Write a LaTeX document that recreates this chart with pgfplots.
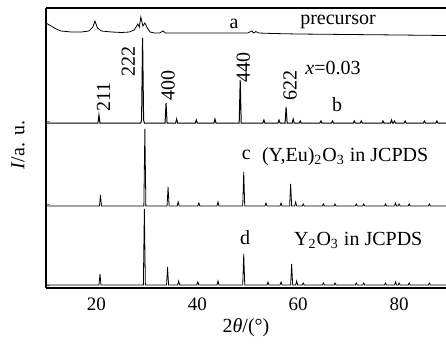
\documentclass[border=0pt]{standalone}
\usepackage{pgfplots}
\pgfplotsset{compat=1.18}
\usepackage{fontspec}
\setmainfont{Liberation Serif}
\begin{document}
\begin{tikzpicture}
\begin{axis}[
  scale only axis,
  width=200pt, height=140pt,
  xmin=10, xmax=89.3, ymin=0, ymax=280,
  axis x line*=box, axis y line*=left,
  axis line style={line width=0.6pt},
  xtick={20,40,60,80},
  major tick length=2pt,
  xtick style={draw=none},
  ytick={3,84,167}, yticklabels={},
  ytick style={line width=0.4pt},
  /pgf/number format/assume math mode=true,
  xticklabel style={font=\fontsize{9.5}{11}\selectfont, yshift=-1.5pt},
  xlabel={2\textit{θ}/(°)},
  ylabel={\textit{I}/a. u.},
  xlabel style={font=\fontsize{10}{12}\selectfont, at={(axis description cs:0.5,-0.143)}, anchor=center},
  ylabel style={font=\fontsize{10}{12}\selectfont, at={(axis description cs:-0.07,0.51)}, anchor=center},
  cycle list={{black, line width=0.5pt, no markers}},
  clip=false,
]
% a: precursor
\addplot coordinates {(10,265) (11,262) (12,259) (13,257) (15,256) (17,256) (18.5,257) (19.3,261) (19.7,267) (20.2,260) (21,257) (23,256) (25,255.5) (26.5,256) (27.5,258) (28.2,264) (28.5,261) (28.8,271) (29.2,262) (29.6,265) (30.1,260) (30.6,256) (31.5,255) (32.5,255) (33.2,257) (33.7,255) (35,255) (40,255) (45,255) (50,255) (50.8,257) (51.2,255) (51.6,256.5) (52.2,255) (55,254.5) (60,254) (70,253.5) (80,253) (89.3,252.5)};
% b: x=0.03
\addplot coordinates {(10,165) (20.3,165) (20.5,173) (20.7,165) (28.8,165) (28.95,168) (29.15,250) (29.35,168) (29.5,165) (33.6,165) (33.8,185) (34.0,165) (35.7,165)(35.9,169)(36.1,165) (39.6,165)(39.8,168)(40.0,165) (43.3,165)(43.5,169)(43.7,165) (48.3,165)(48.5,208)(48.7,165) (53.0,165)(53.2,168)(53.4,165) (56.0,165)(56.2,168)(56.4,165) (57.4,165)(57.6,181)(57.8,165) (58.8,165)(59.0,169)(59.2,165) (60.2,165)(60.4,167)(60.6,165) (64.3,165)(64.5,167)(64.7,165) (66.6,165)(66.8,167)(67.0,165) (70.9,165)(71.1,167)(71.3,165) (72.3,165)(72.5,167)(72.7,165) (76.6,165)(76.8,167)(77.0,165) (78.3,165)(78.5,168)(78.7,165) (78.9,165)(79.1,167)(79.3,165) (81.0,165)(81.2,167)(81.4,165) (84.8,165)(85.0,167)(85.2,165) (87.3,165)(87.5,167)(87.7,165) (89.3,165)};
% c: (Y,Eu)2O3 JCPDS
\addplot coordinates {(10,82) (20.6,82)(20.8,93)(21.0,82) (29.4,82)(29.6,159)(29.8,82) (34.0,82)(34.2,101)(34.4,82) (36.0,82)(36.2,86)(36.4,82) (40.1,82)(40.3,85)(40.5,82) (43.9,82)(44.1,86)(44.3,82) (49.0,82)(49.2,116)(49.4,82) (53.4,82)(53.6,85)(53.8,82) (56.4,82)(56.6,85)(56.8,82) (58.3,82)(58.5,104)(58.7,82) (59.3,82)(59.5,86)(59.7,82) (60.8,82)(61.0,84)(61.2,82) (64.8,82)(65.0,84)(65.2,82) (67.1,82)(67.3,84)(67.5,82) (71.3,82)(71.5,84)(71.7,82) (72.8,82)(73.0,84)(73.2,82) (77.1,82)(77.3,84)(77.5,82) (79.1,82)(79.3,85)(79.5,82) (79.8,82)(80.0,84)(80.2,82) (81.8,82)(82.0,84)(82.2,82) (85.8,82)(86.0,84)(86.2,82) (89.3,82)};
% d: Y2O3 JCPDS
\addplot coordinates {(10,3) (20.5,3)(20.7,14)(20.9,3) (29.3,3)(29.5,79)(29.7,3) (33.9,3)(34.1,21)(34.3,3) (36.1,3)(36.3,7)(36.5,3) (39.9,3)(40.1,6)(40.3,3) (43.9,3)(44.1,7)(44.3,3) (49.0,3)(49.2,34)(49.4,3) (53.8,3)(54.0,6)(54.2,3) (56.4,3)(56.6,6)(56.8,3) (58.5,3)(58.7,24)(58.9,3) (59.5,3)(59.7,7)(59.9,3) (60.8,3)(61.0,5)(61.2,3) (64.8,3)(65.0,5)(65.2,3) (67.1,3)(67.3,5)(67.5,3) (71.3,3)(71.5,5)(71.7,3) (72.8,3)(73.0,5)(73.2,3) (77.1,3)(77.3,5)(77.5,3) (79.1,3)(79.3,6)(79.5,3) (79.8,3)(80.0,5)(80.2,3) (81.8,3)(82.0,5)(82.2,3) (85.8,3)(86.0,5)(86.2,3) (89.3,3)};
\begin{scope}[every node/.style={font=\fontsize{10}{12}\selectfont, inner sep=0pt}]
\node at (axis cs:47.3,264) {a};
\node at (axis cs:67.9,266) {precursor};
\node[rotate=90] at (axis cs:21.4,191) {211};
\node[rotate=90] at (axis cs:26.3,227) {222};
\node[rotate=90] at (axis cs:34.2,203) {400};
\node[rotate=90] at (axis cs:49.1,221) {440};
\node[rotate=90] at (axis cs:58.4,203) {622};
\node at (axis cs:66.9,220) {\textit{x}=0.03};
\node at (axis cs:67.7,183) {b};
\node at (axis cs:49.7,133) {c};
\node at (axis cs:69.3,131) {(Y,Eu)\textsubscript{2}O\textsubscript{3} in JCPDS};
\node at (axis cs:49.5,50) {d};
\node at (axis cs:71.9,48) {Y\textsubscript{2}O\textsubscript{3} in JCPDS};
\end{scope}
\end{axis}
\pgfresetboundingbox
\path[use as bounding box] ([xshift=-23pt,yshift=-31pt]current axis.south west) rectangle ([yshift=4pt]current axis.north east);
\end{tikzpicture}
\end{document}
